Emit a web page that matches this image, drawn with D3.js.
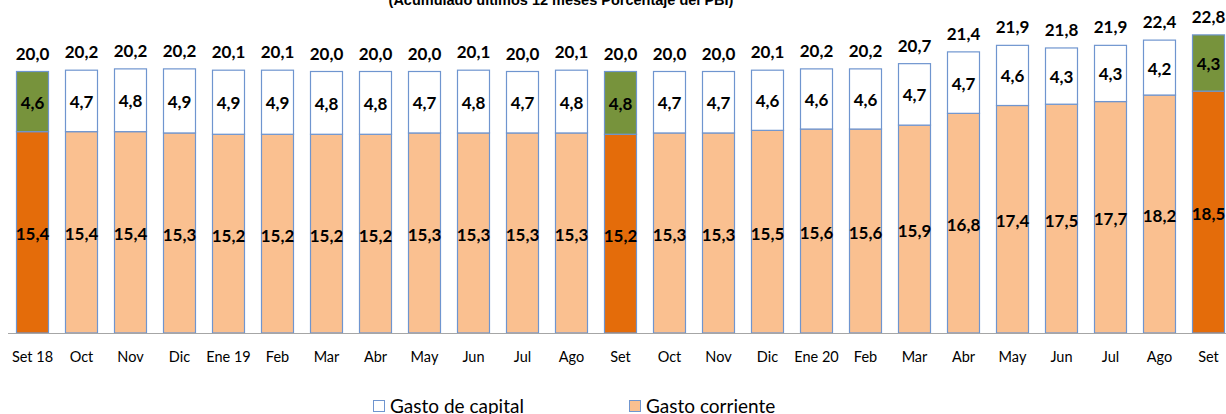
<!DOCTYPE html>
<html><head><meta charset="utf-8">
<script src="https://cdn.jsdelivr.net/npm/d3@7"></script>
<style>body{margin:0;background:#fff}svg{display:block}</style>
</head><body>
<script>
const categories = ["Set 18","Oct","Nov","Dic","Ene 19","Feb","Mar","Abr","May","Jun","Jul","Ago","Set","Oct","Nov","Dic","Ene 20","Feb","Mar","Abr","May","Jun","Jul","Ago","Set"];
const gastoCorriente = [15.4,15.4,15.4,15.3,15.2,15.2,15.2,15.2,15.3,15.3,15.3,15.3,15.2,15.3,15.3,15.5,15.6,15.6,15.9,16.8,17.4,17.5,17.7,18.2,18.5];
const gastoCapital = [4.6,4.7,4.8,4.9,4.9,4.9,4.8,4.8,4.7,4.8,4.7,4.8,4.8,4.7,4.7,4.6,4.6,4.6,4.7,4.7,4.6,4.3,4.3,4.2,4.3];
const totales = [20.0,20.2,20.2,20.2,20.1,20.1,20.0,20.0,20.0,20.1,20.0,20.1,20.0,20.0,20.0,20.1,20.2,20.2,20.7,21.4,21.9,21.8,21.9,22.4,22.8];
const highlighted = [0,12,24];
const title = "(Acumulado últimos 12 meses Porcentaje del PBI)";
const legendLabels = ["Gasto de capital","Gasto corriente"];

const W=1226,H=414;
const svg=d3.select("body").append("svg").attr("width",W).attr("height",H);
const idx=d3.range(categories.length);
const x=d3.scaleBand().domain(idx).range([8,1233]).paddingInner(0.347).paddingOuter(0.1735);
const y=d3.scaleLinear().domain([0,20]).range([333,71.5]);
const fmt=v=>d3.format(".1f")(v).replace(".",",");
const font="Lato, 'Open Sans', sans-serif";

svg.append("text").attr("x",561).attr("y",5).attr("text-anchor","middle")
  .attr("font-family","Liberation Sans, Arial, sans-serif").attr("font-weight","bold").attr("font-size",14.5).text(title);

const g=svg.append("g");
const stroke="#6F95CF";
g.selectAll("rect.cur").data(idx).join("rect").attr("class","cur")
  .attr("x",i=>x(i)).attr("width",x.bandwidth())
  .attr("y",i=>y(gastoCorriente[i])).attr("height",i=>y(0)-y(gastoCorriente[i]))
  .attr("fill",i=>highlighted.includes(i)?"#E46C0A":"#FAC090").attr("stroke",stroke).attr("stroke-width",1.2);
g.selectAll("rect.cap").data(idx).join("rect").attr("class","cap")
  .attr("x",i=>x(i)).attr("width",x.bandwidth())
  .attr("y",i=>y(gastoCorriente[i]+gastoCapital[i])).attr("height",i=>y(gastoCorriente[i])-y(gastoCorriente[i]+gastoCapital[i]))
  .attr("fill",i=>highlighted.includes(i)?"#77933C":"#FFFFFF").attr("stroke",stroke).attr("stroke-width",1.2);

svg.append("line").attr("x1",8).attr("x2",W).attr("y1",333.5).attr("y2",333.5).attr("stroke","#A6A6A6").attr("stroke-width",1.2);

const lab=svg.append("g").attr("font-family",font).attr("font-weight","bold").attr("fill","#000").attr("text-anchor","middle").attr("font-size",17);
lab.selectAll("text.cur").data(idx).join("text")
  .attr("x",i=>x(i)+x.bandwidth()/2).attr("y",i=>(y(0)+y(gastoCorriente[i]))/2+2).attr("dy","0.35em")
  .text(i=>fmt(gastoCorriente[i]));
lab.selectAll("text.cap").data(idx).join("text")
  .attr("x",i=>x(i)+x.bandwidth()/2).attr("y",i=>(y(gastoCorriente[i])+y(gastoCorriente[i]+gastoCapital[i]))/2+1).attr("dy","0.35em")
  .text(i=>fmt(gastoCapital[i]));
lab.selectAll("text.tot").data(idx).join("text")
  .attr("x",i=>x(i)+x.bandwidth()/2).attr("y",i=>y(gastoCorriente[i]+gastoCapital[i])-12)
  .text(i=>fmt(totales[i]));

const xa=svg.append("g").attr("font-family",font).attr("font-size",14.5).attr("text-anchor","middle").attr("fill","#000");
xa.selectAll("text").data(idx).join("text").attr("x",i=>x(i)+x.bandwidth()/2).attr("y",362).text(i=>categories[i]);

const leg=svg.append("g").attr("font-family",font).attr("font-size",19);
[[373,"#FFFFFF",legendLabels[0]],[629,"#FAC090",legendLabels[1]]].forEach(([lx,c,t])=>{
  leg.append("rect").attr("x",lx+0.5).attr("y",400.5).attr("width",11).attr("height",11).attr("fill",c).attr("stroke",stroke);
  leg.append("text").attr("x",lx+17).attr("y",412.5).text(t);
});
</script>
</body></html>
